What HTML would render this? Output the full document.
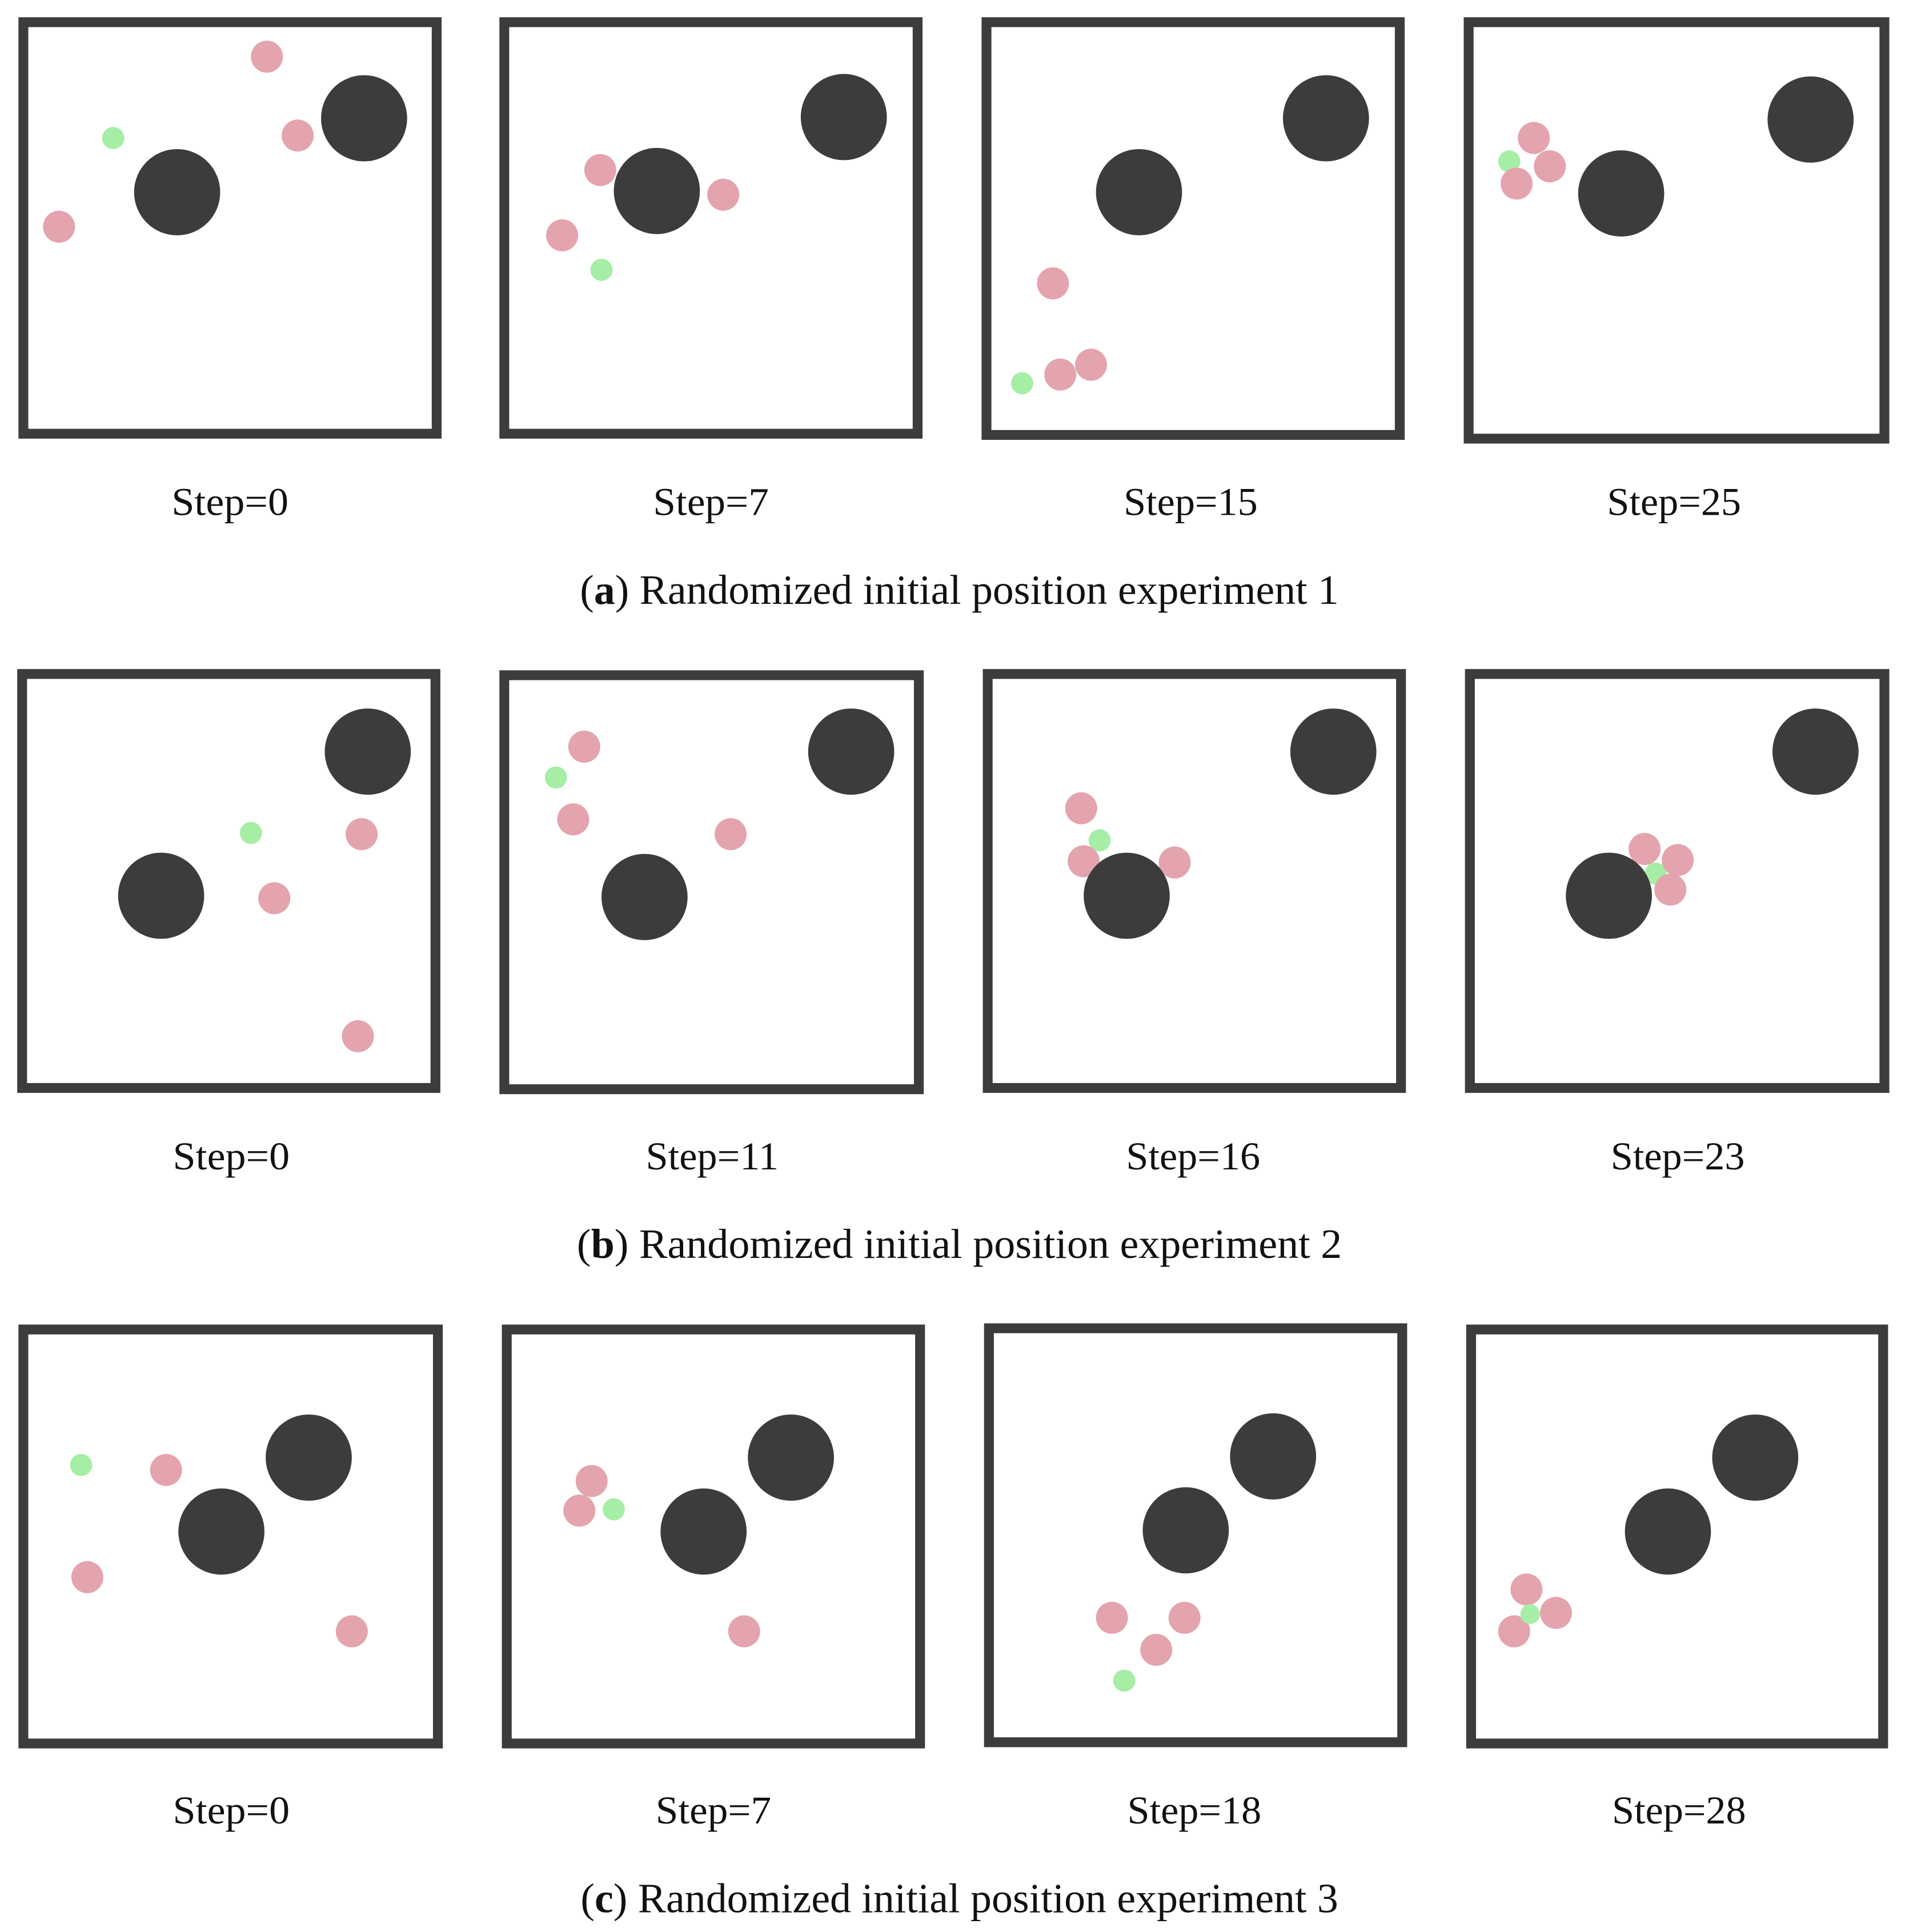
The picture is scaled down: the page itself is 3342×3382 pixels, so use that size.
<!DOCTYPE html>
<html><head><meta charset="utf-8"><style>
html,body{margin:0;padding:0;background:#fff;}
svg{display:block;}
text{font-family:"Liberation Serif",serif;fill:#111;}
</style></head><body>
<svg width="3342" height="3382" viewBox="0 0 1552 1568" preserveAspectRatio="none" xmlns="http://www.w3.org/2000/svg">
<defs>
<style>
.b{fill:none;stroke:#3c3c3c;stroke-width:8;}
.d{fill:#3c3c3c;}
.p{fill:#e3a4ae;}
.g{fill:#a6eea6;}
.l{font-size:32px;text-anchor:middle;}
.c{font-size:34px;text-anchor:middle;}
</style>
</defs>
<!-- Row a -->
<rect class="b" x="19" y="18" width="336" height="334"/>
<rect class="b" x="410" y="18" width="336" height="334"/>
<rect class="b" x="802" y="18" width="336" height="335"/>
<rect class="b" x="1194" y="18" width="338" height="338"/>
<circle class="g" cx="92" cy="112" r="9"/>
<circle class="p" cx="217" cy="46" r="13"/><circle class="p" cx="242" cy="110" r="13"/><circle class="p" cx="48" cy="184" r="13"/>
<circle class="d" cx="144" cy="156" r="35"/><circle class="d" cx="296" cy="96" r="35"/>
<circle class="g" cx="489" cy="219" r="9"/>
<circle class="p" cx="488" cy="138" r="13"/><circle class="p" cx="588" cy="158" r="13"/><circle class="p" cx="457" cy="191" r="13"/>
<circle class="d" cx="534" cy="155" r="35"/><circle class="d" cx="686" cy="95" r="35"/>
<circle class="g" cx="831" cy="311" r="9"/>
<circle class="p" cx="856" cy="230" r="13"/><circle class="p" cx="862" cy="304" r="13"/><circle class="p" cx="887" cy="296" r="13"/>
<circle class="d" cx="926" cy="156" r="35"/><circle class="d" cx="1078" cy="96" r="35"/>
<circle class="g" cx="1227" cy="131" r="9"/>
<circle class="p" cx="1247" cy="112" r="13"/><circle class="p" cx="1260" cy="135" r="13"/><circle class="p" cx="1233" cy="149" r="13"/>
<circle class="d" cx="1318" cy="157" r="35"/><circle class="d" cx="1472" cy="97" r="35"/>
<text class="l" x="187" y="418" textLength="95" lengthAdjust="spacingAndGlyphs">Step=0</text>
<text class="l" x="578" y="418" textLength="94" lengthAdjust="spacingAndGlyphs">Step=7</text>
<text class="l" x="968" y="418" textLength="109" lengthAdjust="spacingAndGlyphs">Step=15</text>
<text class="l" x="1361" y="418" textLength="109" lengthAdjust="spacingAndGlyphs">Step=25</text>
<text class="c" x="780" y="490" textLength="617" lengthAdjust="spacingAndGlyphs">(<tspan font-weight="bold">a</tspan>) Randomized initial position experiment 1</text>
<!-- Row b -->
<rect class="b" x="18" y="547" width="336" height="336"/>
<rect class="b" x="410" y="548" width="337" height="336"/>
<rect class="b" x="803" y="547" width="336" height="336"/>
<rect class="b" x="1195" y="547" width="337" height="336"/>
<circle class="g" cx="204" cy="676" r="9"/>
<circle class="p" cx="294" cy="677" r="13"/><circle class="p" cx="223" cy="729" r="13"/><circle class="p" cx="291" cy="841" r="13"/>
<circle class="d" cx="299" cy="610" r="35"/><circle class="d" cx="131" cy="727" r="35"/>
<circle class="g" cx="452" cy="631" r="9"/>
<circle class="p" cx="475" cy="606" r="13"/><circle class="p" cx="466" cy="665" r="13"/><circle class="p" cx="594" cy="677" r="13"/>
<circle class="d" cx="692" cy="610" r="35"/><circle class="d" cx="524" cy="728" r="35"/>
<circle class="g" cx="894" cy="682" r="9"/>
<circle class="p" cx="879" cy="656" r="13"/><circle class="p" cx="881" cy="699" r="13"/><circle class="p" cx="955" cy="700" r="13"/>
<circle class="d" cx="1084" cy="610" r="35"/><circle class="d" cx="916" cy="727" r="35"/>
<circle class="g" cx="1346" cy="709" r="9"/>
<circle class="p" cx="1337" cy="689" r="13"/><circle class="p" cx="1364" cy="698" r="13"/><circle class="p" cx="1358" cy="722" r="13"/>
<circle class="d" cx="1476" cy="610" r="35"/><circle class="d" cx="1308" cy="727" r="35"/>
<text class="l" x="188" y="949" textLength="95" lengthAdjust="spacingAndGlyphs">Step=0</text>
<text class="l" x="579" y="949" textLength="108" lengthAdjust="spacingAndGlyphs">Step=11</text>
<text class="l" x="970" y="949" textLength="109" lengthAdjust="spacingAndGlyphs">Step=16</text>
<text class="l" x="1364" y="949" textLength="109" lengthAdjust="spacingAndGlyphs">Step=23</text>
<text class="c" x="780" y="1021" textLength="622" lengthAdjust="spacingAndGlyphs">(<tspan font-weight="bold">b</tspan>) Randomized initial position experiment 2</text>
<!-- Row c -->
<rect class="b" x="19" y="1079" width="337" height="336"/>
<rect class="b" x="412" y="1079" width="336" height="336"/>
<rect class="b" x="804" y="1078" width="336" height="336"/>
<rect class="b" x="1196" y="1079" width="335" height="336"/>
<circle class="g" cx="66" cy="1189" r="9"/>
<circle class="p" cx="135" cy="1193" r="13"/><circle class="p" cx="71" cy="1280" r="13"/><circle class="p" cx="286" cy="1324" r="13"/>
<circle class="d" cx="251" cy="1183" r="35"/><circle class="d" cx="180" cy="1243" r="35"/>
<circle class="g" cx="499" cy="1225" r="9"/>
<circle class="p" cx="481" cy="1202" r="13"/><circle class="p" cx="471" cy="1226" r="13"/><circle class="p" cx="605" cy="1324" r="13"/>
<circle class="d" cx="643" cy="1183" r="35"/><circle class="d" cx="572" cy="1243" r="35"/>
<circle class="g" cx="914" cy="1364" r="9"/>
<circle class="p" cx="904" cy="1313" r="13"/><circle class="p" cx="963" cy="1313" r="13"/><circle class="p" cx="940" cy="1339" r="13"/>
<circle class="d" cx="1035" cy="1182" r="35"/><circle class="d" cx="964" cy="1242" r="35"/>
<circle class="p" cx="1241" cy="1290" r="13"/><circle class="p" cx="1265" cy="1309" r="13"/><circle class="p" cx="1231" cy="1324" r="13"/>
<circle class="g" cx="1244" cy="1310" r="8"/>
<circle class="d" cx="1427" cy="1183" r="35"/><circle class="d" cx="1356" cy="1243" r="35"/>
<text class="l" x="188" y="1480" textLength="95" lengthAdjust="spacingAndGlyphs">Step=0</text>
<text class="l" x="580" y="1480" textLength="94" lengthAdjust="spacingAndGlyphs">Step=7</text>
<text class="l" x="971" y="1480" textLength="109" lengthAdjust="spacingAndGlyphs">Step=18</text>
<text class="l" x="1365" y="1480" textLength="109" lengthAdjust="spacingAndGlyphs">Step=28</text>
<text class="c" x="780" y="1552" textLength="616" lengthAdjust="spacingAndGlyphs">(<tspan font-weight="bold">c</tspan>) Randomized initial position experiment 3</text>
</svg>
</body></html>
